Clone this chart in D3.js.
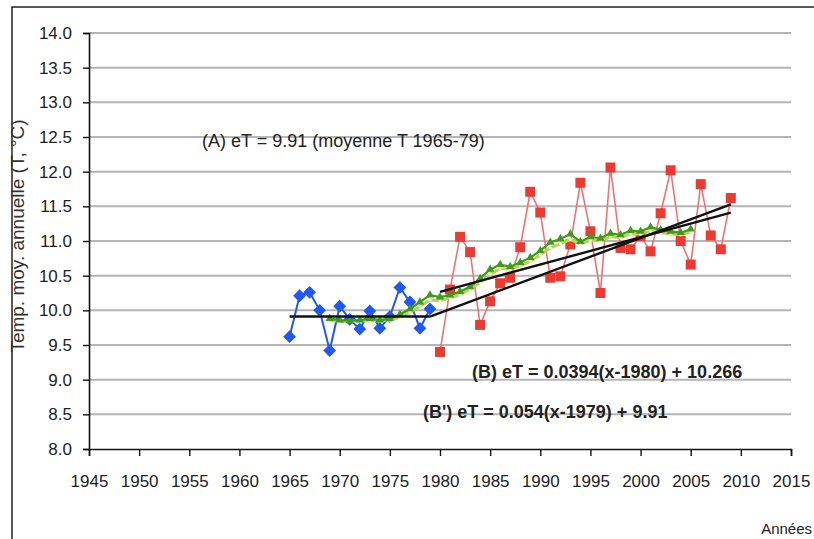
<!DOCTYPE html>
<html><head><meta charset="utf-8">
<script src="https://cdn.jsdelivr.net/npm/d3@7"></script>
<style>
body{margin:0;background:#fff;}
svg{display:block;font-family:"Liberation Sans",Arial,sans-serif;}
</style></head>
<body>
<svg id="c" width="814" height="539"></svg>
<script>
// ---- data ----
const yTicks = [8.0,8.5,9.0,9.5,10.0,10.5,11.0,11.5,12.0,12.5,13.0,13.5,14.0];
const xTicks = [1945,1950,1955,1960,1965,1970,1975,1980,1985,1990,1995,2000,2005,2010,2015];
const blueYears = d3.range(1965,1980);
const blueValues = [9.62,10.21,10.26,10.00,9.42,10.06,9.87,9.73,9.99,9.74,9.91,10.33,10.12,9.74,10.02];
const redYears = d3.range(1980,2010);
const redValues = [9.40,10.30,11.06,10.84,9.79,10.13,10.39,10.47,10.91,11.71,11.41,10.47,10.49,10.95,11.84,11.14,10.25,12.06,10.90,10.88,11.07,10.85,11.40,12.02,11.00,10.66,11.82,11.08,10.88,11.62];
const greenYears = d3.range(1969,2006);
const greenValues = [9.88,9.86,9.85,9.86,9.88,9.86,9.88,9.94,10.02,10.12,10.22,10.19,10.22,10.27,10.34,10.46,10.59,10.66,10.63,10.69,10.76,10.86,10.98,11.03,11.10,10.99,11.06,11.04,11.11,11.09,11.15,11.14,11.20,11.16,11.14,11.12,11.17];
const lightValues = [9.86,9.84,9.84,9.85,9.85,9.85,9.86,9.90,9.97,10.06,10.15,10.14,10.18,10.23,10.30,10.40,10.52,10.60,10.60,10.64,10.71,10.80,10.90,10.96,11.02,10.96,11.01,11.00,11.06,11.05,11.10,11.10,11.14,11.12,11.10,11.09,11.13];
// regression lines (start year, end year, slope, ref year, intercept)
const fitA = {x0:1965, x1:1979, a:0, ref:1979, b:9.91};
const fitB = {x0:1980, x1:2009, a:0.0394, ref:1980, b:10.266};
const fitBp = {x0:1979, x1:2009, a:0.054, ref:1979, b:9.91};
const labels = {
  A: "(A) eT = 9.91 (moyenne T 1965-79)",
  B: "(B) eT = 0.0394(x-1980) + 10.266",
  Bp: "(B') eT = 0.054(x-1979) + 9.91",
  yTitle: "Temp. moy. annuelle (T, °C)",
  xTitle: "Années"
};

// ---- drawing ----
const svg = d3.select("#c");
const x = d3.scaleLinear().domain([1945,2015]).range([89,791]);
const y = d3.scaleLinear().domain([8,14]).range([449,33]);

// outer frame
svg.append("rect").attr("x",12).attr("y",7).attr("width",830).attr("height",560)
  .attr("fill","#fff").attr("stroke","#222").attr("stroke-width",1.5);

// grid
svg.append("g").selectAll("line").data(yTicks.filter(d=>d>8)).join("line")
  .attr("x1",x(1945)).attr("x2",x(2015)).attr("y1",d=>y(d)).attr("y2",d=>y(d))
  .attr("stroke","#b5b5b5").attr("stroke-width",2);

// axes
const yAxis = svg.append("g").attr("transform",`translate(${x(1945)},0)`)
  .call(d3.axisLeft(y).tickValues(yTicks).tickFormat(d3.format(".1f")).tickSize(6).tickPadding(11));
const xAxis = svg.append("g").attr("transform",`translate(0,${y(8)})`)
  .call(d3.axisBottom(x).tickValues(xTicks).tickFormat(d3.format("d")).tickSize(7).tickPadding(19));
[yAxis,xAxis].forEach(g=>{
  g.select(".domain").attr("stroke","#111").attr("stroke-width",1.6);
  g.selectAll(".tick line").attr("stroke","#111").attr("stroke-width",1.4);
  g.selectAll("text").attr("fill","#222").style("font-size","17px").style("font-family","'Liberation Sans',Arial,sans-serif");
});

// axis titles
svg.append("text").attr("transform","translate(24,236) rotate(-90)")
  .attr("text-anchor","middle").style("font-size","19px").attr("fill","#333").text(labels.yTitle);
svg.append("text").attr("x",812).attr("y",534).attr("text-anchor","end").style("font-size","15px").attr("fill","#222").text(labels.xTitle);

// lines helper
const fitLine = f => [[f.x0, f.b + f.a*(f.x0-f.ref)],[f.x1, f.b + f.a*(f.x1-f.ref)]];
const line = d3.line().x(d=>x(d[0])).y(d=>y(d[1]));

// blue series
const blue = blueYears.map((yr,i)=>[yr,blueValues[i]]);
svg.append("path").attr("d",line(blue)).attr("fill","none").attr("stroke","#2058f5").attr("stroke-width",2);
svg.append("g").selectAll("path").data(blue).join("path")
  .attr("d",d3.symbol(d3.symbolDiamond2 || d3.symbolDiamond, 105))
  .attr("transform",d=>`translate(${x(d[0])},${y(d[1])})`).attr("fill","#2058f5");

// red series
const red = redYears.map((yr,i)=>[yr,redValues[i]]);
svg.append("path").attr("d",line(red)).attr("fill","none").attr("stroke","#f27272").attr("stroke-width",1.6);
svg.append("g").selectAll("rect").data(red).join("rect")
  .attr("x",d=>x(d[0])-5).attr("y",d=>y(d[1])-5).attr("width",10).attr("height",10).attr("fill","#ec3a32");

// light green series
const light = greenYears.map((yr,i)=>[yr,lightValues[i]]);
svg.append("path").attr("d",line(light)).attr("fill","none").attr("stroke","#b4d84a").attr("stroke-width",3);
svg.append("g").selectAll("circle").data(light).join("circle")
  .attr("cx",d=>x(d[0])).attr("cy",d=>y(d[1])).attr("r",1.6).attr("fill","#f4f8d0");

// dark green series
const green = greenYears.map((yr,i)=>[yr,greenValues[i]]);
svg.append("path").attr("d",line(green)).attr("fill","none").attr("stroke","#3d9a1c").attr("stroke-width",2.2);
svg.append("g").selectAll("path").data(green).join("path")
  .attr("d",d3.symbol(d3.symbolTriangle,30))
  .attr("transform",d=>`translate(${x(d[0])},${y(d[1])})`).attr("fill","#3d9a1c");

// fit lines
[fitA,fitB,fitBp].forEach(f=>{
  svg.append("path").attr("d",line(fitLine(f))).attr("fill","none").attr("stroke","#111").attr("stroke-width",2.4);
});

// annotations
svg.append("text").attr("x",202).attr("y",147).style("font-size","18px").attr("fill","#222").text(labels.A);
svg.append("text").attr("x",472).attr("y",378).style("font-size","18px").style("font-weight","bold").attr("fill","#222").text(labels.B);
svg.append("text").attr("x",423).attr("y",418).style("font-size","18px").style("font-weight","bold").attr("fill","#222").text(labels.Bp);
</script>
</body></html>
